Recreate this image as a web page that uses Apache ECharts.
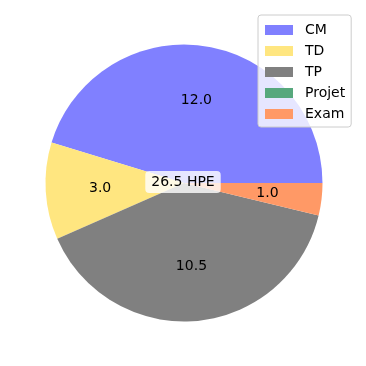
<!DOCTYPE html>
<html>
<head>
<meta charset="utf-8">
<script src="https://cdn.jsdelivr.net/npm/echarts@6/dist/echarts.min.js"></script>
<style>html,body{margin:0;padding:0;background:#fff}#c{width:366px;height:366px}</style>
</head>
<body>
<div id="c"></div>
<script>
const categories = ['CM', 'TD', 'TP', 'Projet', 'Exam'];
const values = [12.0, 3.0, 10.5, 0, 1.0];
const colors = ['#8080ff', '#ffe680', '#808080', '#57a87d', '#ff9966'];
const unit = 'HPE';

const total = values.reduce((a, b) => a + b, 0);
const data = categories.map((c, i) => ({ name: c, value: values[i], itemStyle: { color: colors[i] } }));
const labelData = categories.map((c, i) => ({ name: c, value: values[i] }));

const R = 138.5;
const font = 'DejaVu Sans';
const chart = echarts.init(document.getElementById('c'), null, { renderer: 'canvas' });
chart.setOption({
  animation: false,
  color: colors,
  legend: {
    orient: 'vertical',
    left: 258,
    top: 15,
    data: categories,
    icon: 'rect',
    itemWidth: 28,
    itemHeight: 10,
    itemGap: 7,
    padding: [8, 6, 6, 7],
    backgroundColor: 'rgba(255,255,255,0.8)',
    borderColor: '#cccccc',
    borderWidth: 1,
    borderRadius: 3,
    selectedMode: false,
    textStyle: { fontFamily: font, fontSize: 14, color: '#000', padding: [0, 0, 0, 7] }
  },
  graphic: [{
    type: 'text',
    x: 183,
    y: 182,
    z: 100,
    silent: true,
    style: {
      text: total.toFixed(1) + ' ' + unit,
      align: 'center',
      verticalAlign: 'middle',
      fontFamily: font,
      fontSize: 14,
      fill: '#000',
      backgroundColor: 'rgba(255,255,255,0.8)',
      borderRadius: 4,
      padding: [4, 6, 4, 6]
    }
  }],
  series: [
    {
      type: 'pie',
      center: [184, 183],
      radius: [0, R],
      startAngle: 0,
      clockwise: false,
      silent: true,
      label: { show: false },
      labelLine: { show: false },
      itemStyle: { borderWidth: 0 },
      emphasis: { disabled: true },
      data: data
    },
    {
      type: 'pie',
      center: [184, 183],
      radius: [R * 0.17, R],
      startAngle: 0,
      clockwise: false,
      silent: true,
      itemStyle: { color: 'rgba(0,0,0,0)', borderWidth: 0 },
      emphasis: { disabled: true },
      labelLine: { show: false },
      label: {
        show: true,
        position: 'inside',
        fontFamily: font,
        fontSize: 14,
        color: '#000',
        formatter: p => (p.value > 0 ? p.value.toFixed(1) : '')
      },
      data: labelData
    }
  ]
});
</script>
</body>
</html>
